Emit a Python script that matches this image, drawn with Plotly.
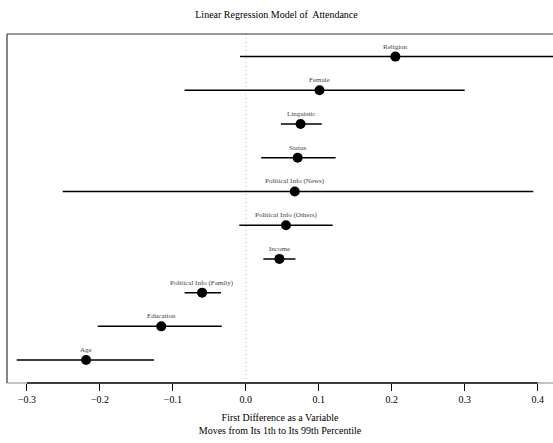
import plotly.graph_objects as go

# First-difference estimates with their 95% intervals
variables = ["Age", "Education", "Political Info (Family)", "Income",
             "Political Info (Others)", "Political Info (News)", "Status",
             "Linguistic", "Female", "Religion"]
estimate = [-0.219, -0.116, -0.060, 0.046, 0.055, 0.067, 0.071, 0.075, 0.101, 0.205]
lower = [-0.314, -0.203, -0.084, 0.024, -0.009, -0.251, 0.021, 0.048, -0.084, -0.008]
upper = [-0.126, -0.033, -0.034, 0.068, 0.119, 0.394, 0.123, 0.104, 0.300, 0.440]
tick_vals = [-0.3, -0.2, -0.1, 0.0, 0.1, 0.2, 0.3, 0.4]
tick_text = ["\u22120.3", "\u22120.2", "\u22120.1", "0.0", "0.1", "0.2", "0.3", "0.4"]

FONT = "Liberation Serif"
pos = list(range(1, len(variables) + 1))

fig = go.Figure()

# reference line at zero
fig.add_shape(type="line", x0=0, x1=0, y0=0, y1=1, xref="x", yref="paper",
              line=dict(color="#b8b8b8", width=1, dash="1px,3px"), layer="below")
# box edges: left, top and bottom (the bottom axis runs to the last tick, grey beyond)
box = dict(color="#333333", width=1.2)
fig.add_shape(type="line", x0=0, x1=0, y0=0, y1=1, xref="paper", yref="paper", line=box)
fig.add_shape(type="line", x0=0, x1=1, y0=1, y1=1, xref="paper", yref="paper", line=box)
fig.add_shape(type="line", x0=0, x1=1, y0=0, y1=0, xref="paper", yref="paper",
              line=dict(color="#888888", width=1.2))
fig.add_shape(type="line", x0=tick_vals[0], x1=tick_vals[-1], y0=0, y1=0,
              xref="x", yref="paper", line=dict(color="#111111", width=1.3))

# interval segments
for lo, hi, p in zip(lower, upper, pos):
    fig.add_trace(go.Scatter(x=[lo, hi], y=[p, p], mode="lines",
                             line=dict(color="black", width=1.5),
                             hoverinfo="skip", showlegend=False))

# point estimates
fig.add_trace(go.Scatter(x=estimate, y=pos, mode="markers",
                         marker=dict(color="black", size=10),
                         showlegend=False))

# variable labels above each point
for name, est, p in zip(variables, estimate, pos):
    fig.add_annotation(x=est, y=p, text=name, showarrow=False,
                       yanchor="bottom", yshift=4,
                       font=dict(family=FONT, size=7, color="#444444"))

fig.update_layout(
    width=553, height=443,
    margin=dict(l=7, r=0, t=34, b=60),
    paper_bgcolor="white", plot_bgcolor="rgba(0,0,0,0)",
    title=dict(text="Linear Regression Model of  Attendance",
               x=0.5, xanchor="center", y=0.968, yanchor="middle",
               font=dict(family=FONT, size=10, color="black")),
    xaxis=dict(range=[-0.3274, 0.421], tickvals=tick_vals, ticktext=tick_text,
               showgrid=False, zeroline=False, showline=False,
               ticks="outside", ticklen=7, tickwidth=1, tickcolor="black",
               tickfont=dict(family=FONT, size=10, color="black"),
               title=dict(text="First Difference as a Variable<br>Moves from Its 1th to Its 99th Percentile",
                          font=dict(family=FONT, size=10, color="black"), standoff=9)),
    yaxis=dict(range=[0.32, 10.67], showticklabels=False, ticks="",
               showgrid=False, zeroline=False, showline=False),
    font=dict(family=FONT),
)

fig.write_html("out.html")
